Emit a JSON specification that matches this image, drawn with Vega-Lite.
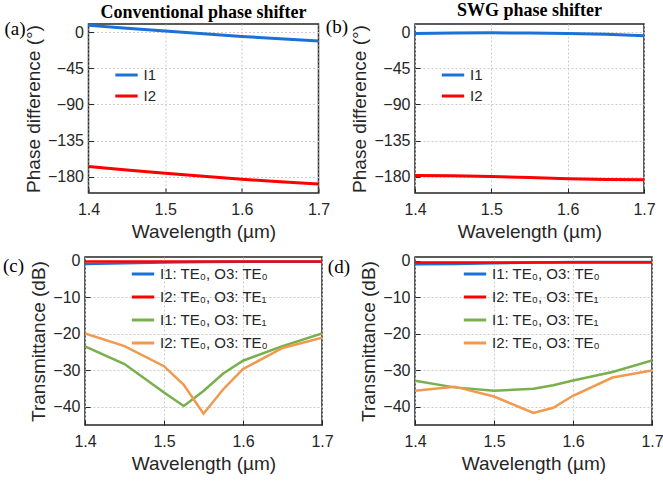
{
  "$schema": "https://vega.github.io/schema/vega-lite/v6.json",
  "background": "white",
  "padding": {"left": 2, "top": 1, "right": 5, "bottom": 5},
  "config": {
    "view": {"stroke": "#262626", "strokeWidth": 1.5},
    "axis": {
      "labelFont": "Liberation Sans", "labelFontSize": 16, "labelColor": "#262626",
      "titleFont": "Liberation Sans", "titleFontSize": 19, "titleFontWeight": "normal", "titleColor": "#262626",
      "domain": false, "tickColor": "#262626", "tickSize": -5, "tickWidth": 1,
      "grid": true, "gridDash": [2, 2], "gridColor": "#cccccc", "gridWidth": 1,
      "labelFlush": false, "labelOverlap": false
    },
    "axisX": {"labelPadding": 13, "titlePadding": 5},
    "axisY": {"labelPadding": 10, "titlePadding": 4},
    "legend": {
      "orient": "none", "symbolType": "stroke", "symbolStrokeWidth": 3, "symbolSize": 500,
      "labelFont": "Liberation Sans", "labelFontSize": 15, "labelColor": "#262626", "rowPadding": 0
    },
    "title": {"font": "Liberation Serif", "fontSize": 18, "fontWeight": "bold", "color": "#000000", "anchor": "middle", "offset": -2}
  },
  "datasets": {
    "phaseA": [
      {"wl": 1.4, "val": 8.3, "series": "I1"}, {"wl": 1.45, "val": 4.6, "series": "I1"}, {"wl": 1.5, "val": 1.2, "series": "I1"},
      {"wl": 1.55, "val": -2.2, "series": "I1"}, {"wl": 1.6, "val": -5.4, "series": "I1"}, {"wl": 1.65, "val": -8.4, "series": "I1"},
      {"wl": 1.7, "val": -11.2, "series": "I1"},
      {"wl": 1.4, "val": -167.2, "series": "I2"}, {"wl": 1.45, "val": -171.5, "series": "I2"}, {"wl": 1.5, "val": -175.4, "series": "I2"},
      {"wl": 1.55, "val": -179.3, "series": "I2"}, {"wl": 1.6, "val": -182.9, "series": "I2"}, {"wl": 1.65, "val": -186.0, "series": "I2"},
      {"wl": 1.7, "val": -188.7, "series": "I2"}
    ],
    "phaseB": [
      {"wl": 1.4, "val": -1.8, "series": "I1"}, {"wl": 1.45, "val": -1.2, "series": "I1"}, {"wl": 1.5, "val": -1.0, "series": "I1"},
      {"wl": 1.55, "val": -1.2, "series": "I1"}, {"wl": 1.6, "val": -1.8, "series": "I1"}, {"wl": 1.65, "val": -2.8, "series": "I1"},
      {"wl": 1.7, "val": -4.5, "series": "I1"},
      {"wl": 1.4, "val": -178.2, "series": "I2"}, {"wl": 1.45, "val": -178.5, "series": "I2"}, {"wl": 1.5, "val": -179.5, "series": "I2"},
      {"wl": 1.55, "val": -180.8, "series": "I2"}, {"wl": 1.6, "val": -182.2, "series": "I2"}, {"wl": 1.65, "val": -183.3, "series": "I2"},
      {"wl": 1.7, "val": -183.5, "series": "I2"}
    ],
    "transC": [
      {"wl": 1.4, "val": -0.9, "series": "I1: TE₀, O3: TE₀"}, {"wl": 1.45, "val": -0.7, "series": "I1: TE₀, O3: TE₀"},
      {"wl": 1.5, "val": -0.5, "series": "I1: TE₀, O3: TE₀"}, {"wl": 1.55, "val": -0.4, "series": "I1: TE₀, O3: TE₀"},
      {"wl": 1.6, "val": -0.3, "series": "I1: TE₀, O3: TE₀"}, {"wl": 1.65, "val": -0.3, "series": "I1: TE₀, O3: TE₀"},
      {"wl": 1.7, "val": -0.3, "series": "I1: TE₀, O3: TE₀"},
      {"wl": 1.4, "val": -0.2, "series": "I2: TE₀, O3: TE₁"}, {"wl": 1.45, "val": -0.2, "series": "I2: TE₀, O3: TE₁"},
      {"wl": 1.5, "val": -0.2, "series": "I2: TE₀, O3: TE₁"}, {"wl": 1.55, "val": -0.2, "series": "I2: TE₀, O3: TE₁"},
      {"wl": 1.6, "val": -0.2, "series": "I2: TE₀, O3: TE₁"}, {"wl": 1.65, "val": -0.2, "series": "I2: TE₀, O3: TE₁"},
      {"wl": 1.7, "val": -0.2, "series": "I2: TE₀, O3: TE₁"},
      {"wl": 1.4, "val": -23.5, "series": "I1: TE₀, O3: TE₁"}, {"wl": 1.45, "val": -28.3, "series": "I1: TE₀, O3: TE₁"},
      {"wl": 1.5, "val": -36.1, "series": "I1: TE₀, O3: TE₁"}, {"wl": 1.525, "val": -39.8, "series": "I1: TE₀, O3: TE₁"},
      {"wl": 1.55, "val": -35.7, "series": "I1: TE₀, O3: TE₁"}, {"wl": 1.575, "val": -30.9, "series": "I1: TE₀, O3: TE₁"},
      {"wl": 1.6, "val": -27.4, "series": "I1: TE₀, O3: TE₁"}, {"wl": 1.65, "val": -23.4, "series": "I1: TE₀, O3: TE₁"},
      {"wl": 1.7, "val": -19.9, "series": "I1: TE₀, O3: TE₁"},
      {"wl": 1.4, "val": -19.9, "series": "I2: TE₀, O3: TE₀"}, {"wl": 1.45, "val": -23.4, "series": "I2: TE₀, O3: TE₀"},
      {"wl": 1.5, "val": -28.9, "series": "I2: TE₀, O3: TE₀"}, {"wl": 1.525, "val": -34.0, "series": "I2: TE₀, O3: TE₀"},
      {"wl": 1.55, "val": -41.9, "series": "I2: TE₀, O3: TE₀"}, {"wl": 1.575, "val": -35.2, "series": "I2: TE₀, O3: TE₀"},
      {"wl": 1.6, "val": -29.7, "series": "I2: TE₀, O3: TE₀"}, {"wl": 1.65, "val": -23.9, "series": "I2: TE₀, O3: TE₀"},
      {"wl": 1.7, "val": -21.1, "series": "I2: TE₀, O3: TE₀"}
    ],
    "transD": [
      {"wl": 1.4, "val": -1.0, "series": "I1: TE₀, O3: TE₀"}, {"wl": 1.45, "val": -0.9, "series": "I1: TE₀, O3: TE₀"},
      {"wl": 1.5, "val": -0.7, "series": "I1: TE₀, O3: TE₀"}, {"wl": 1.55, "val": -0.5, "series": "I1: TE₀, O3: TE₀"},
      {"wl": 1.6, "val": -0.4, "series": "I1: TE₀, O3: TE₀"}, {"wl": 1.65, "val": -0.4, "series": "I1: TE₀, O3: TE₀"},
      {"wl": 1.7, "val": -0.4, "series": "I1: TE₀, O3: TE₀"},
      {"wl": 1.4, "val": -0.5, "series": "I2: TE₀, O3: TE₁"}, {"wl": 1.45, "val": -0.5, "series": "I2: TE₀, O3: TE₁"},
      {"wl": 1.5, "val": -0.5, "series": "I2: TE₀, O3: TE₁"}, {"wl": 1.55, "val": -0.5, "series": "I2: TE₀, O3: TE₁"},
      {"wl": 1.6, "val": -0.5, "series": "I2: TE₀, O3: TE₁"}, {"wl": 1.65, "val": -0.5, "series": "I2: TE₀, O3: TE₁"},
      {"wl": 1.7, "val": -0.5, "series": "I2: TE₀, O3: TE₁"},
      {"wl": 1.4, "val": -32.9, "series": "I1: TE₀, O3: TE₁"}, {"wl": 1.45, "val": -34.7, "series": "I1: TE₀, O3: TE₁"},
      {"wl": 1.5, "val": -35.6, "series": "I1: TE₀, O3: TE₁"}, {"wl": 1.55, "val": -35.1, "series": "I1: TE₀, O3: TE₁"},
      {"wl": 1.575, "val": -34.1, "series": "I1: TE₀, O3: TE₁"}, {"wl": 1.6, "val": -32.8, "series": "I1: TE₀, O3: TE₁"},
      {"wl": 1.65, "val": -30.5, "series": "I1: TE₀, O3: TE₁"}, {"wl": 1.7, "val": -27.3, "series": "I1: TE₀, O3: TE₁"},
      {"wl": 1.4, "val": -35.6, "series": "I2: TE₀, O3: TE₀"}, {"wl": 1.45, "val": -34.5, "series": "I2: TE₀, O3: TE₀"},
      {"wl": 1.5, "val": -37.2, "series": "I2: TE₀, O3: TE₀"}, {"wl": 1.55, "val": -41.7, "series": "I2: TE₀, O3: TE₀"},
      {"wl": 1.575, "val": -40.3, "series": "I2: TE₀, O3: TE₀"}, {"wl": 1.6, "val": -37.0, "series": "I2: TE₀, O3: TE₀"},
      {"wl": 1.65, "val": -32.0, "series": "I2: TE₀, O3: TE₀"}, {"wl": 1.7, "val": -30.1, "series": "I2: TE₀, O3: TE₀"}
    ],
    "labels": [{"dummy": 1}]
  },
  "columns": 2,
  "bounds": "flush",
  "center": true,
  "spacing": {"row": 64, "column": 93},
  "resolve": {"scale": {"x": "independent", "y": "independent", "color": "independent"}, "legend": {"color": "independent"}},
  "concat": [
    {
      "width": 230, "height": 169,
      "title": {"text": "Conventional phase shifter"},
      "layer": [
        {
          "data": {"name": "phaseA"},
          "mark": {"type": "line", "strokeWidth": 3, "clip": true},
          "encoding": {
            "x": {"field": "wl", "type": "quantitative", "scale": {"domain": [1.4, 1.7], "nice": false}, "axis": {"values": [1.4, 1.5, 1.6, 1.7], "format": ".1f", "title": "Wavelength (µm)"}},
            "y": {"field": "val", "type": "quantitative", "scale": {"domain": [-200, 10], "nice": false, "zero": false}, "axis": {"values": [-180, -135, -90, -45, 0], "title": "Phase difference (°)"}},
            "color": {"field": "series", "type": "nominal", "scale": {"domain": ["I1", "I2"], "range": ["#1a72d9", "#ff0000"]}, "legend": {"title": null, "legendX": 25, "legendY": 38}}
          }
        },
        {
          "data": {"name": "labels"},
          "mark": {"type": "text", "align": "right", "baseline": "middle", "dx": -63, "dy": 5, "font": "Liberation Serif", "fontSize": 19, "color": "#000000"},
          "encoding": {"x": {"datum": 1.4}, "y": {"datum": 10}, "text": {"value": "(a)"}}
        }
      ]
    },
    {
      "width": 229, "height": 169,
      "title": {"text": "SWG phase shifter"},
      "layer": [
        {
          "data": {"name": "phaseB"},
          "mark": {"type": "line", "strokeWidth": 3, "clip": true},
          "encoding": {
            "x": {"field": "wl", "type": "quantitative", "scale": {"domain": [1.4, 1.7], "nice": false}, "axis": {"values": [1.4, 1.5, 1.6, 1.7], "format": ".1f", "title": "Wavelength (µm)"}},
            "y": {"field": "val", "type": "quantitative", "scale": {"domain": [-200, 10], "nice": false, "zero": false}, "axis": {"values": [-180, -135, -90, -45, 0], "title": "Phase difference (°)"}},
            "color": {"field": "series", "type": "nominal", "scale": {"domain": ["I1", "I2"], "range": ["#1a72d9", "#ff0000"]}, "legend": {"title": null, "legendX": 25, "legendY": 38}}
          }
        },
        {
          "data": {"name": "labels"},
          "mark": {"type": "text", "align": "right", "baseline": "middle", "dx": -67, "dy": 3, "font": "Liberation Serif", "fontSize": 19, "color": "#000000"},
          "encoding": {"x": {"datum": 1.4}, "y": {"datum": 10}, "text": {"value": "(b)"}}
        }
      ]
    },
    {
      "width": 237, "height": 168,
      "layer": [
        {
          "data": {"name": "transC"},
          "mark": {"type": "line", "strokeWidth": 2.5, "clip": true},
          "encoding": {
            "x": {"field": "wl", "type": "quantitative", "scale": {"domain": [1.4, 1.7], "nice": false}, "axis": {"values": [1.4, 1.5, 1.6, 1.7], "format": ".1f", "title": "Wavelength (µm)"}},
            "y": {"field": "val", "type": "quantitative", "scale": {"domain": [-45, 1], "nice": false, "zero": false}, "axis": {"values": [-40, -30, -20, -10, 0], "title": "Transmittance (dB)"}},
            "color": {"field": "series", "type": "nominal", "sort": null, "scale": {"domain": ["I1: TE₀, O3: TE₀", "I2: TE₀, O3: TE₁", "I1: TE₀, O3: TE₁", "I2: TE₀, O3: TE₀"], "range": ["#1a72d9", "#ff0000", "#79b04e", "#ef9a4f"]}, "legend": {"title": null, "legendX": 45, "legendY": 4, "rowPadding": 2}}
          }
        },
        {
          "data": {"name": "labels"},
          "mark": {"type": "text", "align": "right", "baseline": "middle", "dx": -61, "dy": 9, "font": "Liberation Serif", "fontSize": 19, "color": "#000000"},
          "encoding": {"x": {"datum": 1.4}, "y": {"datum": 1}, "text": {"value": "(c)"}}
        }
      ]
    },
    {
      "width": 237, "height": 168,
      "layer": [
        {
          "data": {"name": "transD"},
          "mark": {"type": "line", "strokeWidth": 2.5, "clip": true},
          "encoding": {
            "x": {"field": "wl", "type": "quantitative", "scale": {"domain": [1.4, 1.7], "nice": false}, "axis": {"values": [1.4, 1.5, 1.6, 1.7], "format": ".1f", "title": "Wavelength (µm)"}},
            "y": {"field": "val", "type": "quantitative", "scale": {"domain": [-45, 1], "nice": false, "zero": false}, "axis": {"values": [-40, -30, -20, -10, 0], "title": "Transmittance (dB)"}},
            "color": {"field": "series", "type": "nominal", "sort": null, "scale": {"domain": ["I1: TE₀, O3: TE₀", "I2: TE₀, O3: TE₁", "I1: TE₀, O3: TE₁", "I2: TE₀, O3: TE₀"], "range": ["#1a72d9", "#ff0000", "#79b04e", "#ef9a4f"]}, "legend": {"title": null, "legendX": 47, "legendY": 4, "rowPadding": 2}}
          }
        },
        {
          "data": {"name": "labels"},
          "mark": {"type": "text", "align": "right", "baseline": "middle", "dx": -65, "dy": 10, "font": "Liberation Serif", "fontSize": 19, "color": "#000000"},
          "encoding": {"x": {"datum": 1.4}, "y": {"datum": 1}, "text": {"value": "(d)"}}
        }
      ]
    }
  ]
}
